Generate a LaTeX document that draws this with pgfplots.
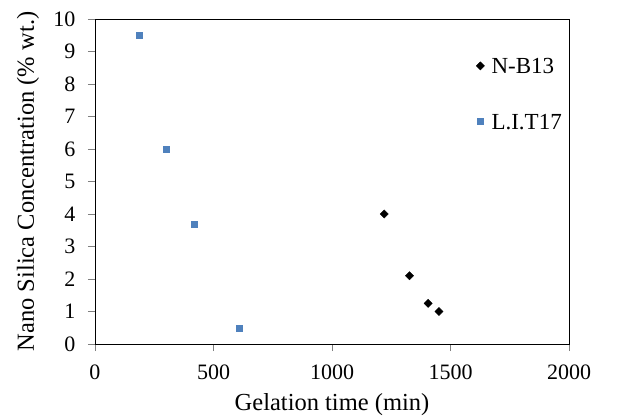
\documentclass[border=0pt]{standalone}
\usepackage{fontspec}
\setmainfont{Liberation Serif}
\usepackage{pgfplots}
\pgfplotsset{compat=1.18}
\definecolor{litblue}{HTML}{4F81BD}
\definecolor{tickgray}{HTML}{7F7F7F}

\begin{document}
\begin{tikzpicture}
\path[use as bounding box] (-95bp,-75bp) rectangle (526bp,344bp);
\begin{axis}[
  scale only axis, width=474bp, height=325bp,
  xmin=0, xmax=2000, ymin=0, ymax=10,
  xtick={0,500,...,2000}, ytick={0,1,...,10},
  tick align=outside, major tick length=7bp,
  xtick pos=bottom, ytick pos=left,
  axis line style={line width=0.9bp},
  tick style={line width=0.9bp, color=tickgray},
  tick label style={font=\fontsize{22bp}{26bp}\selectfont},
  /pgf/number format/assume math mode=true,
  scaled ticks=false,
  x tick label style={/pgf/number format/1000 sep={}, yshift=-10bp},
  y tick label style={xshift=-9bp},
  label style={font=\fontsize{24.5bp}{29bp}\selectfont},
  xlabel={Gelation time (min)},
  ylabel={Nano Silica Concentration (\% wt.)},
  xlabel style={at={(axis description cs:0.5,-0.1877)}, anchor=center},
  ylabel style={at={(axis description cs:-0.1414,0.5)}, anchor=center},
  legend style={draw=none, fill=none, inner sep=0pt,
    font=\fontsize{23bp}{27bp}\selectfont,
    row sep=39bp, column sep=7bp,
    nodes={inner sep=0pt, anchor=base west},
    at={(axis description cs:0.804,0.88)}, anchor=north west},
  legend image code/.code={\draw[#1] plot coordinates {(0bp,7.5bp)};},
]
\addplot[only marks, mark=square*, mark size=2.9bp, color=black,
  mark options={rotate=45}] coordinates {
  (1220,4) (1327,2.1) (1406,1.25) (1451,1.0)
};
\addlegendentry{N-B13}
\addplot[only marks, mark=square*, mark size=3bp, color=litblue] coordinates {
  (187,9.5) (300,6) (420,3.7) (607,0.5)
};
\addlegendentry{L.I.T17}
\end{axis}
\end{tikzpicture}
\end{document}
